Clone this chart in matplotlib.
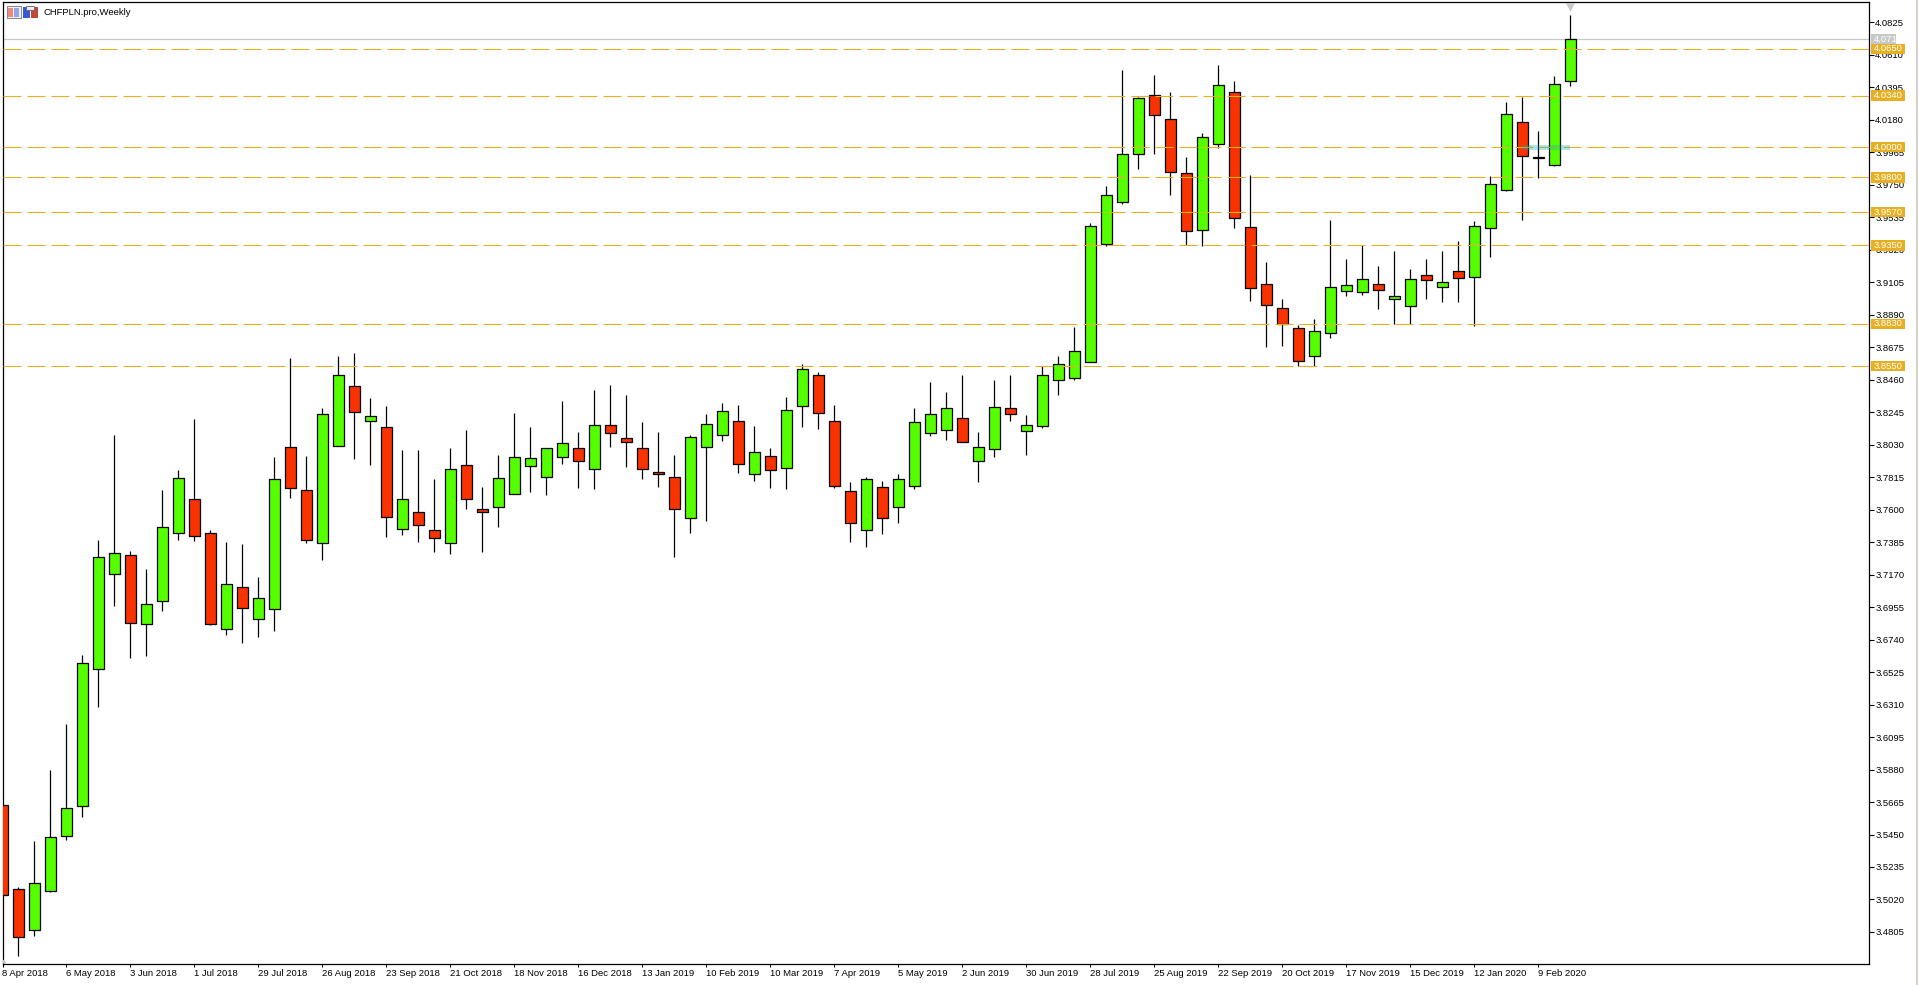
import matplotlib
matplotlib.use("Agg")
import matplotlib.pyplot as plt
from matplotlib.patches import Rectangle, Polygon
from matplotlib.transforms import blended_transform_factory

plt.rcParams['font.family'] = ['Liberation Sans', 'DejaVu Sans']
plt.rcParams['lines.scale_dashes'] = False

TITLE = "CHFPLN.pro,Weekly"

opens = [3.5647,3.5089,3.4820,3.5077,3.5442,3.5640,3.6546,3.7176,3.7300,3.6845,
         3.6997,3.7448,3.7672,3.7446,3.6811,3.7090,3.6878,3.6945,3.8015,3.7731,
         3.7381,3.8023,3.8420,3.8188,3.8148,3.7473,3.7586,3.7467,3.7381,3.7897,
         3.7606,3.7619,3.7705,3.7890,3.7817,3.7950,3.8009,3.7870,3.8162,3.8076,
         3.8009,3.7851,3.7817,3.7546,3.8016,3.8095,3.8188,3.7837,3.7956,3.7877,
         3.8287,3.8493,3.8188,3.7725,3.7467,3.7751,3.7619,3.7758,3.8109,3.8128,
         3.8208,3.7923,3.8003,3.8274,3.8122,3.8155,3.8459,3.8473,3.8579,3.9359,
         3.9638,3.9955,4.0346,4.0187,3.9829,3.9452,4.0021,4.0365,3.9472,3.9095,
         3.8936,3.8804,3.8618,3.8771,3.9049,3.9042,3.9095,3.8996,3.8949,3.9154,
         3.9075,3.9181,3.9141,3.9465,3.9717,4.0167,3.9937,3.9882,4.0438]
closes = [3.5051,3.4772,3.5127,3.5435,3.5626,3.6587,3.7288,3.7315,3.6849,3.6976,
          3.7486,3.7810,3.7426,3.6842,3.7109,3.6949,3.7016,3.7804,3.7745,3.7401,
          3.8234,3.8493,3.8248,3.8221,3.7553,3.7672,3.7500,3.7414,3.7870,3.7672,
          3.7586,3.7811,3.7950,3.7943,3.8009,3.8042,3.7923,3.8162,3.8109,3.8049,
          3.7870,3.7837,3.7606,3.8082,3.8168,3.8254,3.7903,3.7983,3.7864,3.8261,
          3.8532,3.8241,3.7758,3.7513,3.7804,3.7546,3.7804,3.8181,3.8234,3.8274,
          3.8049,3.8016,3.8281,3.8234,3.8162,3.8493,3.8565,3.8651,3.9479,3.9684,
          3.9955,4.0326,4.0213,3.9836,3.9446,4.0068,4.0412,3.9532,3.9068,3.8956,
          3.8830,3.8585,3.8784,3.9075,3.9088,3.9128,3.9055,3.9015,3.9128,3.9121,
          3.9108,3.9135,3.9479,3.9757,4.0220,3.9942,3.9929,4.0418,4.0713]
highs = [3.5647,3.5103,3.5404,3.5880,3.6184,3.6635,3.7396,3.8092,3.7328,3.7205,
         3.7727,3.7865,3.8199,3.7467,3.7383,3.7376,3.7157,3.7946,3.8607,3.7952,
         3.8274,3.8614,3.8634,3.8340,3.8283,3.7992,3.7992,3.7800,3.8005,3.8124,
         3.7747,3.7965,3.8243,3.8144,3.8009,3.8316,3.8111,3.8389,3.8422,3.8362,
         3.8177,3.8111,3.7965,3.8097,3.8230,3.8303,3.8296,3.8157,3.8005,3.8349,
         3.8561,3.8512,3.8296,3.7784,3.7817,3.7791,3.7837,3.8270,3.8442,3.8382,
         3.8494,3.8115,3.8459,3.8494,3.8228,3.8549,3.8620,3.8812,3.9500,3.9745,
         4.0513,4.0334,4.0480,4.0367,3.9931,4.0090,4.0540,4.0440,3.9812,3.9242,
         3.8991,3.8825,3.8865,3.9520,3.9262,3.9350,3.9216,3.9315,3.9196,3.9262,
         3.9315,3.9375,3.9512,3.9810,4.0299,4.0334,4.0103,4.0471,4.0877]
lows = [3.5051,3.4643,3.4777,3.5068,3.5413,3.5563,3.6293,3.6961,3.6618,3.6630,
        3.6928,3.7398,3.7391,3.6835,3.6771,3.6716,3.6756,3.6797,3.7677,3.7378,
        3.7265,3.8023,3.7934,3.7894,3.7418,3.7431,3.7385,3.7319,3.7305,3.7603,
        3.7319,3.7484,3.7705,3.7716,3.7696,3.7901,3.7742,3.7735,3.8013,3.7881,
        3.7802,3.7749,3.7285,3.7444,3.7524,3.8053,3.7841,3.7788,3.7742,3.7735,
        3.8144,3.8137,3.7742,3.7385,3.7352,3.7438,3.7510,3.7735,3.8086,3.8060,
        3.8049,3.7782,3.7947,3.8185,3.7960,3.8139,3.8358,3.8457,3.8579,3.9344,
        3.9622,3.9853,3.9953,3.9681,3.9355,3.9344,3.9992,3.9463,3.8980,3.8675,
        3.8682,3.8552,3.8552,3.8735,3.9013,3.9019,3.8927,3.8830,3.8830,3.8993,
        3.8973,3.8973,3.8814,3.9271,3.9708,3.9520,3.9792,3.9873,4.0403]

y_ticks = [4.0825,4.0610,4.0395,4.0180,3.9965,3.9750,3.9535,3.9320,3.9105,3.8890,
           3.8675,3.8460,3.8245,3.8030,3.7815,3.7600,3.7385,3.7170,3.6955,3.6740,
           3.6525,3.6310,3.6095,3.5880,3.5665,3.5450,3.5235,3.5020,3.4805]
date_positions = [0,4,8,12,16,20,24,28,32,36,40,44,48,52,56,60,64,68,72,76,80,84,88,92,96]
date_labels = ["8 Apr 2018","6 May 2018","3 Jun 2018","1 Jul 2018","29 Jul 2018",
               "26 Aug 2018","23 Sep 2018","21 Oct 2018","18 Nov 2018","16 Dec 2018",
               "13 Jan 2019","10 Feb 2019","10 Mar 2019","7 Apr 2019","5 May 2019",
               "2 Jun 2019","30 Jun 2019","28 Jul 2019","25 Aug 2019","22 Sep 2019",
               "20 Oct 2019","17 Nov 2019","15 Dec 2019","12 Jan 2020","9 Feb 2020"]
gold_levels = [4.0650,4.0340,4.0000,3.9800,3.9570,3.9350,3.8830,3.8550]
current_price = 4.0713

W, H = 1918, 985
UP, DOWN, GOLD, GRAY = "#55FF00", "#F83200", "#E6B022", "#C8C8C8"
FS = 6.8

fig = plt.figure(figsize=(W/100, H/100), dpi=100, facecolor="white")
L, R, T, B = 2.5, 1868.5, 2.0, 964.0
ax = fig.add_axes([L/W, 1-B/H, (R-L)/W, (B-T)/H])
ax.set_xlim(0.0125, 116.64)
ax.set_ylim(3.4593, 4.0960)
for s in ax.spines.values():
    s.set_linewidth(0.9)
    s.set_color("black")

xs = list(range(len(opens)))
ax.vlines(xs, lows, highs, color="black", lw=0.9, zorder=2)
for x, o, c in zip(xs, opens, closes):
    top, bot = max(o, c), min(o, c)
    face = UP if c > o else DOWN
    ax.bar(x, top-bot, bottom=bot, width=10.5/16, facecolor=face,
           edgecolor="black", linewidth=0.9, zorder=3)

for p in gold_levels:
    ax.plot([0, 1], [p, p], transform=blended_transform_factory(ax.transAxes, ax.transData),
            color=GOLD, lw=0.8, linestyle=(0, (12.96, 4.32)), zorder=4)
ax.axhline(current_price, color=GRAY, lw=0.9, zorder=1)

# translucent level box near the last bars
ax.add_patch(Rectangle((95, 3.9980), 3, 0.0033, facecolor="#00AABE", alpha=0.3,
                       edgecolor="none", zorder=5))

# grey marker on the top edge over the last bar
ax.scatter([98], [0.9945], marker="v", s=42, color=GRAY, zorder=6, linewidths=0,
           transform=blended_transform_factory(ax.transData, ax.transAxes), clip_on=False)

ax.yaxis.tick_right()
ax.set_yticks(y_ticks)
ax.set_yticklabels([f"{v:.4f}" for v in y_ticks], fontsize=FS, color="black")
ax.tick_params(axis="y", length=3.6, width=0.8, pad=1.2, right=True, left=False)
ax.set_xticks(date_positions)
ax.set_xticklabels(date_labels, fontsize=FS, ha="left", color="black")
ax.tick_params(axis="x", length=2.2, width=0.8, pad=1.5)

# right-hand price tags
tr = blended_transform_factory(fig.transFigure, ax.transData)
tag_h = 10.6/1511
def tag(price, color, x1):
    ax.add_patch(Rectangle((1871/W, price-tag_h/2), (x1-1871)/W, tag_h, transform=tr,
                           facecolor=color, edgecolor="none", clip_on=False, zorder=7))
    ax.text(1874/W, price, f"{price:.4f}", transform=tr, color="white", fontsize=FS,
            va="center", ha="left", clip_on=False, zorder=8)
tag(current_price, GRAY, 1896)
for p in gold_levels:
    tag(p, GOLD, 1905)

# title and the two small window icons
fig.text(44/W, 1-12.5/H, TITLE, fontsize=FS, color="black", va="center", ha="left")
def px(x, y, w, h, color, edge="none"):
    fig.add_artist(Rectangle((x/W, 1-(y+h)/H), w/W, h/H, transform=fig.transFigure,
                             facecolor=color, edgecolor=edge, linewidth=0.7))
px(6.5, 6.5, 14, 11.5, "#F0F0F4", "#808890")
px(8, 8.5, 5, 8, "#F08878")
px(14, 8.5, 5, 8, "#90A8E8")
px(23, 7, 7, 11, "#3858D0")
px(31, 7, 7, 11, "#C04838")
px(26, 6.5, 8, 3.5, "#E8E8F0", "#707080")

# corner mark and the window's right border
fig.add_artist(Polygon([(3/W, 1-963.5/H), (3/W, 1-959.5/H), (7/W, 1-963.5/H)],
                       transform=fig.transFigure, facecolor=GRAY, edgecolor="none"))
px(1916, 0, 2, 985, "#D4D0C8")

fig.savefig("out.png", dpi=100, facecolor="white")
